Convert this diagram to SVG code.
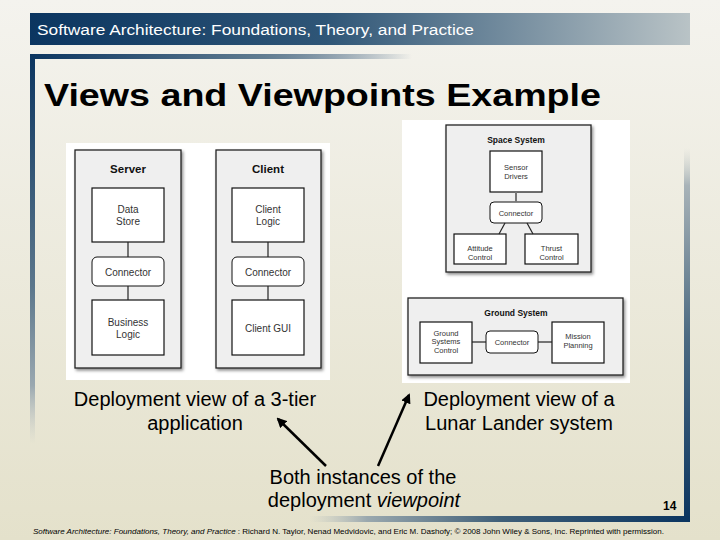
<svg xmlns="http://www.w3.org/2000/svg" width="720" height="540" viewBox="0 0 720 540">
<defs>
<linearGradient id="bg" x1="0" y1="0" x2="0" y2="1">
<stop offset="0" stop-color="#f4f3ee"/>
<stop offset="1" stop-color="#e4e1cb"/>
</linearGradient>
<linearGradient id="hdr" x1="0" y1="0" x2="1" y2="0">
<stop offset="0" stop-color="#0b3560"/>
<stop offset="0.45" stop-color="#2f5677"/>
<stop offset="1" stop-color="#b9c3c6"/>
</linearGradient>
<linearGradient id="topbar" x1="0" y1="0" x2="1" y2="0">
<stop offset="0" stop-color="#0b3560"/>
<stop offset="0.6" stop-color="#5f7b90"/>
<stop offset="1" stop-color="#0b3560" stop-opacity="0"/>
</linearGradient>
<linearGradient id="leftbar" x1="0" y1="0" x2="0" y2="1">
<stop offset="0" stop-color="#0b3560"/>
<stop offset="0.6" stop-color="#5c778c"/>
<stop offset="0.85" stop-color="#9aa8b0"/>
<stop offset="1" stop-color="#c0c6c4" stop-opacity="0"/>
</linearGradient>
<linearGradient id="rightbar" x1="0" y1="0" x2="0" y2="1">
<stop offset="0" stop-color="#c6ccca" stop-opacity="0"/>
<stop offset="0.1" stop-color="#a8b3b8"/>
<stop offset="0.5" stop-color="#4d6b82"/>
<stop offset="1" stop-color="#0b3560"/>
</linearGradient>
<linearGradient id="botbar" x1="0" y1="0" x2="1" y2="0">
<stop offset="0" stop-color="#b8c0bf" stop-opacity="0"/>
<stop offset="0.15" stop-color="#9aa8ae"/>
<stop offset="0.5" stop-color="#3f5f78"/>
<stop offset="1" stop-color="#0b3560"/>
</linearGradient>
<filter id="sh" x="-10%" y="-10%" width="130%" height="130%">
<feDropShadow dx="1.5" dy="2" stdDeviation="1.5" flood-color="#000" flood-opacity="0.45"/>
</filter>
<marker id="ah" viewBox="0 0 10 10" refX="8" refY="5" markerWidth="4" markerHeight="4" orient="auto-start-reverse">
<path d="M0,0 L10,5 L0,10 z" fill="#000"/>
</marker>
<style>
.ff{font-family:"Liberation Sans",Arial,Helvetica,sans-serif;}
.outer{fill:#efefef;stroke:#222;stroke-width:1.3;}
.box{fill:#fff;stroke:#111;stroke-width:1.2;}
.conn{fill:#fff;stroke:#111;stroke-width:1;}
.lbl{font-family:"Liberation Sans",Arial,Helvetica,sans-serif;font-size:10px;fill:#333;text-anchor:middle;}
.lbs{font-family:"Liberation Sans",Arial,Helvetica,sans-serif;font-size:7.5px;fill:#333;text-anchor:middle;}
.ttl{font-family:"Liberation Sans",Arial,Helvetica,sans-serif;font-weight:bold;fill:#111;text-anchor:middle;}
.ln{stroke:#222;stroke-width:1.2;fill:none;}
.cap{font-family:"Liberation Sans",Arial,Helvetica,sans-serif;font-size:20px;fill:#000;text-anchor:middle;}
.arr{stroke:#000;stroke-width:2.5;fill:none;}
</style>
</defs>

<rect x="0" y="0" width="720" height="540" fill="url(#bg)"/>

<!-- header band -->
<rect x="30" y="13" width="660" height="32" fill="url(#hdr)"/>
<text x="37" y="35" class="ff" font-size="15.5" fill="#fff" textLength="437" lengthAdjust="spacingAndGlyphs">Software Architecture: Foundations, Theory, and Practice</text>

<!-- frame -->
<rect x="30" y="54" width="382" height="5" fill="url(#topbar)"/>
<rect x="30" y="54" width="5" height="390" fill="url(#leftbar)"/>
<rect x="684" y="148" width="6" height="374" fill="url(#rightbar)"/>
<rect x="310" y="516" width="380" height="6" fill="url(#botbar)"/>

<text x="44" y="106" class="ff" font-size="31" font-weight="bold" fill="#000" textLength="557" lengthAdjust="spacingAndGlyphs">Views and Viewpoints Example</text>

<!-- left diagram: 3-tier -->
<rect x="66" y="143" width="264" height="237" fill="#fff"/>
<g id="server">
<rect x="75" y="150" width="106" height="218" class="outer" filter="url(#sh)"/>
<text x="128" y="173" class="ttl" font-size="11.5">Server</text>
</g>
<g id="datastore">
<rect x="92" y="188" width="72" height="54" class="box"/>
<text x="128" y="213" class="lbl">Data</text>
<text x="128" y="225" class="lbl">Store</text>
</g>
<g id="server-connector">
<rect x="92" y="257" width="72" height="29" rx="5" class="conn"/>
<text x="128" y="275.5" class="lbl">Connector</text>
</g>
<g id="businesslogic">
<rect x="92" y="300" width="72" height="55" class="box"/>
<text x="128" y="326" class="lbl">Business</text>
<text x="128" y="338" class="lbl">Logic</text>
</g>
<g id="client">
<rect x="216" y="150" width="105" height="218" class="outer" filter="url(#sh)"/>
<text x="268" y="173" class="ttl" font-size="11.5">Client</text>
</g>
<g id="clientlogic">
<rect x="232" y="188" width="72" height="54" class="box"/>
<text x="268" y="213" class="lbl">Client</text>
<text x="268" y="225" class="lbl">Logic</text>
</g>
<g id="client-connector">
<rect x="232" y="257" width="72" height="29" rx="5" class="conn"/>
<text x="268" y="275.5" class="lbl">Connector</text>
</g>
<g id="clientgui">
<rect x="232" y="300" width="72" height="55" class="box"/>
<text x="268" y="331.5" class="lbl">Client GUI</text>
</g>

<!-- right diagram: lunar lander -->
<rect x="402" y="120" width="228" height="263" fill="#fff"/>
<g id="spacesystem">
<rect x="446" y="125" width="145" height="147" class="outer" filter="url(#sh)"/>
<text x="516" y="142.5" class="ttl" font-size="8.5">Space System</text>
</g>
<g id="sensordrivers">
<rect x="490" y="151" width="52" height="41" class="box"/>
<text x="516" y="170" class="lbs">Sensor</text>
<text x="516" y="178.5" class="lbs">Drivers</text>
</g>
<g id="space-connector">
<rect x="490" y="202" width="52" height="21" rx="4" class="conn"/>
<text x="516" y="215.5" class="lbs">Connector</text>
</g>
<g id="attitudecontrol">
<rect x="454" y="234" width="52" height="30" class="box"/>
<text x="480" y="251" class="lbs">Attitude</text>
<text x="480" y="260" class="lbs">Control</text>
</g>
<g id="thrustcontrol">
<rect x="525" y="234" width="53" height="30" class="box"/>
<text x="551.5" y="251" class="lbs">Thrust</text>
<text x="551.5" y="260" class="lbs">Control</text>
</g>
<g id="groundsystem">
<rect x="408" y="298" width="215" height="77" class="outer" filter="url(#sh)"/>
<text x="516" y="315.5" class="ttl" font-size="8.5">Ground System</text>
</g>
<g id="groundsystemscontrol">
<rect x="420" y="322" width="52" height="41" class="box"/>
<text x="446" y="336" class="lbs">Ground</text>
<text x="446" y="344" class="lbs">Systems</text>
<text x="446" y="352.5" class="lbs">Control</text>
</g>
<g id="ground-connector">
<rect x="486" y="331" width="52" height="22" rx="4" class="conn"/>
<text x="512" y="344.5" class="lbs">Connector</text>
</g>
<g id="missionplanning">
<rect x="552" y="322" width="52" height="41" class="box"/>
<text x="578" y="339" class="lbs">Mission</text>
<text x="578" y="347.5" class="lbs">Planning</text>
</g>

<!-- connectors -->
<g id="connectors">
<line x1="128" y1="242" x2="128" y2="257" class="ln"/>
<line x1="128" y1="286" x2="128" y2="300" class="ln"/>
<line x1="268" y1="242" x2="268" y2="257" class="ln"/>
<line x1="268" y1="286" x2="268" y2="300" class="ln"/>
<line x1="516" y1="192" x2="516" y2="202" stroke="#777" stroke-width="2"/>
<line x1="505" y1="223" x2="499" y2="234" class="ln" stroke-width="1"/>
<line x1="527" y1="223" x2="533" y2="234" class="ln" stroke-width="1"/>
<line x1="472" y1="342" x2="486" y2="342" class="ln"/>
<line x1="538" y1="342" x2="552" y2="342" class="ln"/>
<line x1="326" y1="466" x2="278" y2="419" class="arr" marker-end="url(#ah)"/>
<line x1="378" y1="466" x2="409" y2="395" class="arr" marker-end="url(#ah)"/>
</g>

<!-- captions -->
<text x="195" y="406" class="cap">Deployment view of a 3-tier</text>
<text x="195" y="430" class="cap">application</text>
<text x="519" y="406" class="cap">Deployment view of a</text>
<text x="519" y="430" class="cap">Lunar Lander system</text>
<text x="363" y="484" class="cap">Both instances of the</text>
<text x="364" y="507" class="cap">deployment <tspan font-style="italic">viewpoint</tspan></text>

<text x="663" y="510" class="ff" font-size="12" font-weight="bold" fill="#000">14</text>

<text x="33" y="534" class="ff" font-size="7" fill="#000" textLength="631" lengthAdjust="spacingAndGlyphs"><tspan font-style="italic">Software Architecture: Foundations, Theory, and Practice</tspan> : Richard N. Taylor, Nenad Medvidovic, and Eric M. Dashofy; © 2008 John Wiley &amp; Sons, Inc. Reprinted with permission.</text>
</svg>
